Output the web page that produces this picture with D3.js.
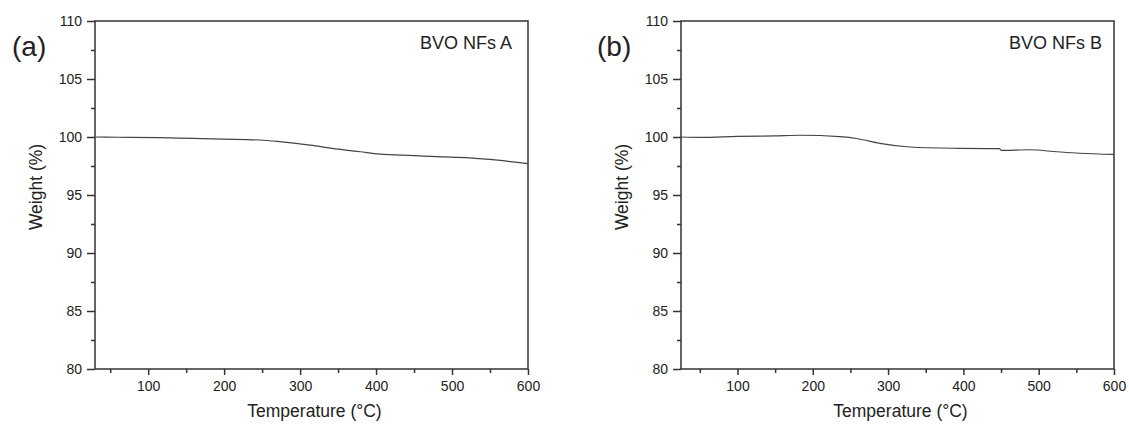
<!DOCTYPE html>
<html>
<head>
<meta charset="utf-8">
<script src="https://cdn.jsdelivr.net/npm/d3@7"></script>
<style>
  body { margin: 0; background: #fff; }
  text { font-family: "Liberation Sans", Arial, sans-serif; fill: #222; }
</style>
</head>
<body>
<div id="root"></div>
<script>
// panel (a)
const tempA = [30, 60, 115, 160, 200, 247, 273, 313, 350, 379, 405, 450, 480, 523, 560, 600];
const weightA = [100, 99.98, 99.94, 99.88, 99.82, 99.74, 99.6, 99.3, 98.95, 98.73, 98.53, 98.4, 98.3, 98.2, 98.0, 97.7];
// panel (b)
const tempB = [25, 50, 100, 150, 183, 236, 260, 289, 329, 395, 448, 450, 488, 520, 554, 600];
const weightB = [100.0, 99.97, 100.05, 100.1, 100.15, 100.03, 99.85, 99.45, 99.14, 99.02, 98.99, 98.85, 98.9, 98.75, 98.6, 98.5];

const yMajor = [80, 85, 90, 95, 100, 105, 110];
const yMinor = [82.5, 87.5, 92.5, 97.5, 102.5, 107.5];
const xMajor = [100, 200, 300, 400, 500, 600];
const xMinor = [50, 150, 250, 350, 450, 550];

const width = 1129;
const height = 425;

const svg = d3.select("#root")
  .append("svg")
  .attr("width", width)
  .attr("height", height)
  .attr("viewBox", `0 0 ${width} ${height}`);

const panels = [
  { label: "(a)", name: "BVO NFs A", temp: tempA, weight: weightA, left: 95, right: 528, x0: 30, labelX: 12, nameGap: 16 },
  { label: "(b)", name: "BVO NFs B", temp: tempB, weight: weightB, left: 681, right: 1114, x0: 25, labelX: 597, nameGap: 12 },
];

const plotTop = 21;
const plotBottom = 369;

panels.forEach((p) => {
  const data = p.temp.map((t, i) => ({ t, w: p.weight[i] }));
  const xScale = d3.scaleLinear().domain([p.x0, 600]).range([p.left, p.right]);
  const yScale = d3.scaleLinear().domain([80, 110]).range([plotBottom, plotTop]);

  const g = svg.append("g");

  // frame
  g.append("rect")
    .attr("x", p.left)
    .attr("y", plotTop)
    .attr("width", p.right - p.left)
    .attr("height", plotBottom - plotTop)
    .attr("fill", "none")
    .attr("stroke", "#333")
    .attr("stroke-width", 1.5);

  // minor ticks
  g.append("g")
    .attr("transform", `translate(${p.left},0)`)
    .call(d3.axisLeft(yScale).tickValues(yMinor).tickSize(4).tickFormat(""))
    .call((s) => s.select(".domain").remove());
  g.append("g")
    .attr("transform", `translate(0,${plotBottom})`)
    .call(d3.axisBottom(xScale).tickValues(xMinor).tickSize(4).tickFormat(""))
    .call((s) => s.select(".domain").remove());

  // major ticks
  g.append("g")
    .attr("transform", `translate(${p.left},0)`)
    .call(d3.axisLeft(yScale).tickValues(yMajor).tickSize(8).tickPadding(5).tickFormat(d3.format("d")))
    .call((s) => s.select(".domain").remove());
  g.append("g")
    .attr("transform", `translate(0,${plotBottom})`)
    .call(d3.axisBottom(xScale).tickValues(xMajor).tickSize(6).tickPadding(6).tickFormat(d3.format("d")))
    .call((s) => s.select(".domain").remove());

  g.selectAll(".tick line").attr("stroke", "#333").attr("stroke-width", 1.5);
  g.selectAll(".tick text")
    .attr("font-size", 14)
    .attr("font-family", "'Liberation Sans', Arial, sans-serif")
    .attr("fill", "#222");

  // curve
  const line = d3.line()
    .x((d) => xScale(d.t))
    .y((d) => yScale(d.w))
    .curve(d3.curveMonotoneX);

  g.append("path")
    .datum(data)
    .attr("d", line)
    .attr("fill", "none")
    .attr("stroke", "#444")
    .attr("stroke-width", 1.2);

  // texts
  g.append("text")
    .attr("x", p.labelX)
    .attr("y", 56)
    .attr("font-size", 28)
    .text(p.label);

  g.append("text")
    .attr("x", p.right - p.nameGap)
    .attr("y", 49)
    .attr("text-anchor", "end")
    .attr("font-size", 18)
    .text(p.name);

  g.append("text")
    .attr("x", (p.left + p.right) / 2 + 3)
    .attr("y", 417)
    .attr("text-anchor", "middle")
    .attr("font-size", 17.5)
    .text("Temperature (°C)");

  g.append("text")
    .attr("transform", `translate(${p.left - 53},${(plotTop + plotBottom) / 2 - 8}) rotate(-90)`)
    .attr("text-anchor", "middle")
    .attr("font-size", 17.5)
    .text("Weight (%)");
});
</script>
</body>
</html>
